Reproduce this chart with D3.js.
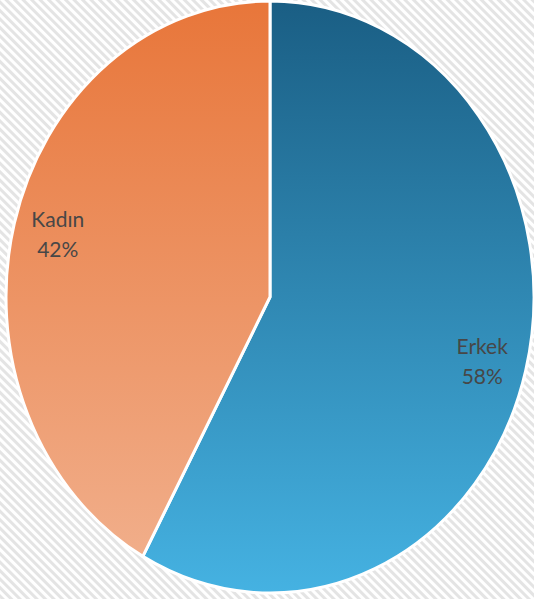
<!DOCTYPE html>
<html>
<head>
<meta charset="utf-8">
<script src="https://cdn.jsdelivr.net/npm/d3@7"></script>
<style>
html,body{margin:0;padding:0;background:#fff;}
svg{display:block;}
</style>
</head>
<body>
<svg id="chart" width="534" height="599"></svg>
<script>
const categories = ["Erkek", "Kadın"];
const values = [58, 42];
const labels = ["58%", "42%"];
const gradTop = ["#1a5e84", "#e8763a"];
const gradBottom = ["#45b2e2", "#f1ae8a"];

const W = 534, H = 599;
const cx = 270, cy = 297, rx = 264, ry = 296;
const R = 100;

const svg = d3.select("#chart");
const defs = svg.append("defs");

const pat = defs.append("pattern")
  .attr("id", "hatch")
  .attr("patternUnits", "userSpaceOnUse")
  .attr("width", 6).attr("height", 6)
  .attr("patternTransform", "rotate(45)");
pat.append("rect").attr("width", 6).attr("height", 6).attr("fill", "#ffffff");
pat.append("rect").attr("width", 6).attr("height", 3).attr("fill", "#e4e4e4");

svg.append("rect").attr("width", W).attr("height", H).attr("fill", "url(#hatch)");

categories.forEach((c, i) => {
  const g = defs.append("linearGradient")
    .attr("id", "grad" + i)
    .attr("x1", 0).attr("y1", 0).attr("x2", 0).attr("y2", 1);
  g.append("stop").attr("offset", "0%").attr("stop-color", gradTop[i]);
  g.append("stop").attr("offset", "100%").attr("stop-color", gradBottom[i]);
});

const pie = d3.pie().sort(null).value(d => d)(values);
const arc = d3.arc().innerRadius(0).outerRadius(R);
const labelArc = d3.arc().innerRadius(R * 0.83).outerRadius(R * 0.83);

const g = svg.append("g")
  .attr("transform", `translate(${cx},${cy}) scale(${rx / R},${ry / R})`);

g.selectAll("path")
  .data(pie)
  .join("path")
  .attr("d", arc)
  .attr("fill", (d, i) => `url(#grad${i})`)
  .attr("stroke", "#ffffff")
  .attr("stroke-width", 3)
  .attr("stroke-linejoin", "round")
  .attr("vector-effect", "non-scaling-stroke");

const lg = svg.append("g");
pie.forEach((d, i) => {
  const [lx, ly] = labelArc.centroid(d);
  const x = cx + lx * rx / R, y = cy + ly * ry / R - (i === 1 ? 5 : 0);
  const t = lg.append("text")
    .attr("x", x).attr("y", y)
    .attr("text-anchor", "middle")
    .attr("font-family", "Lato, 'Open Sans', sans-serif")
    .attr("font-size", 21)
    .attr("fill", "#474747");
  t.append("tspan").attr("x", x).attr("dy", "-0.2em").text(categories[i]);
  t.append("tspan").attr("x", x).attr("dy", "1.45em").text(labels[i]);
});
</script>
</body>
</html>
